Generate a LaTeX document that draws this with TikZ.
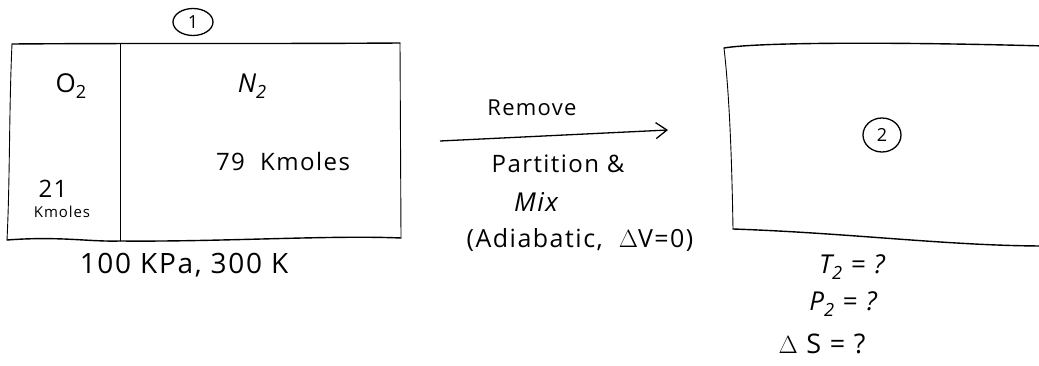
\documentclass[tikz,border=0pt]{standalone}
\usepackage{fontspec}
\setmainfont{Open Sans}
\usetikzlibrary{arrows.meta,shapes.geometric}
% hand-lettered subscript
\newcommand{\lowdigit}[1]{\raisebox{-0.25em}{\fontsize{0.7em}{1em}\selectfont #1}}
\begin{document}
\begin{tikzpicture}[x=1pt,y=-1pt,
  wall/.style={line width=1.4pt,line cap=round,line join=round},
  side/.style={line width=0.9pt,line cap=round},
  hand/.style={font=\fontsize{#1}{#1}\selectfont\addfontfeature{LetterSpace=6},inner sep=0pt},
  hand/.default=24,
  handit/.style={font=\fontsize{#1}{#1}\selectfont\itshape\addfontfeature{LetterSpace=6},inner sep=0pt},
  handit/.default=24,
  statemark/.style={draw,ellipse,line width=1.3pt,inner sep=0pt,
    font=\fontsize{18}{20}\selectfont},
  process/.style={line width=1.3pt,-{Straight Barb[length=11pt,width=16pt,line width=1.3pt]}}]
\useasboundingbox (0,0) rectangle (1039,366);

% corners of the partitioned tank (state 1)
\coordinate (t1nw) at (12,44);
\coordinate (t1ne) at (400,43);
\coordinate (t1sw) at (7,240);
\coordinate (t1se) at (401,238);
\coordinate (p1top) at (120,44);
\coordinate (p1bot) at (120,241);

% tank 1 outline
\draw[wall] (t1nw) .. controls (150,43) and (260,44) .. (t1ne);
\draw[wall] (t1sw) .. controls (60,236) and (90,242) .. (p1bot)
  .. controls (220,242) and (330,235) .. (t1se);
\draw[side] (t1nw) .. controls (9,110) and (10,180) .. (t1sw);
\draw[side] (t1ne) -- (t1se);
\draw[side] (p1top) -- (p1bot);

% state 1 label and contents
\node[statemark,minimum width=40pt,minimum height=27pt] (s1) at (193,22) {1};
\node[hand=26] (o2) at (71,86) {O\lowdigit{2}};
\node[handit=26] (n2) at (252,86) {N\lowdigit{2}};
\node[hand=24] (n21) at (53,189) {21};
\node[hand=15] (kmo) at (62,212) {Kmoles};
\node[hand=24] (n79) at (283,162) {79\ \ Kmoles};
\node[hand=28] (cond1) at (184,265) {100 KPa, 300 K};

% corners of the mixed tank (state 2)
\coordinate (t2nw) at (724,48);
\coordinate (t2ne) at (1045,46);
\coordinate (t2sw) at (733,229);
\coordinate (t2se) at (1045,246);

\draw[wall] (t2nw) .. controls (760,42) and (900,42) .. (t2ne);
\draw[wall] (t2sw) .. controls (850,233) and (950,246) .. (t2se);
\draw[side] (t2nw) .. controls (730,100) and (732,170) .. (t2sw);

\node[statemark,minimum width=38pt,minimum height=34pt] (s2) at (882,135) {2};

% process arrow
\coordinate (arrA) at (440,141);
\coordinate (arrB) at (668,130);
\draw[process] (arrA) -- (arrB);
\node[hand=22] (rem) at (532,108) {Remove};
\node[hand=24] (part) at (558,164) {Partition \&};
\node[handit=26] (mix) at (536,202) {Mix};
\node[hand=25] (adi) at (580,240) {(Adiabatic,\ \ $\Delta$V=0)};

% unknowns at state 2
\node[handit=26] (t2) at (852,267) {T\lowdigit{2} = ?};
\node[handit=26] (p2) at (843,304) {P\lowdigit{2} = ?};
\node[hand=27] (ds) at (822,344) {$\Delta$ S = ?};
\end{tikzpicture}
\end{document}
